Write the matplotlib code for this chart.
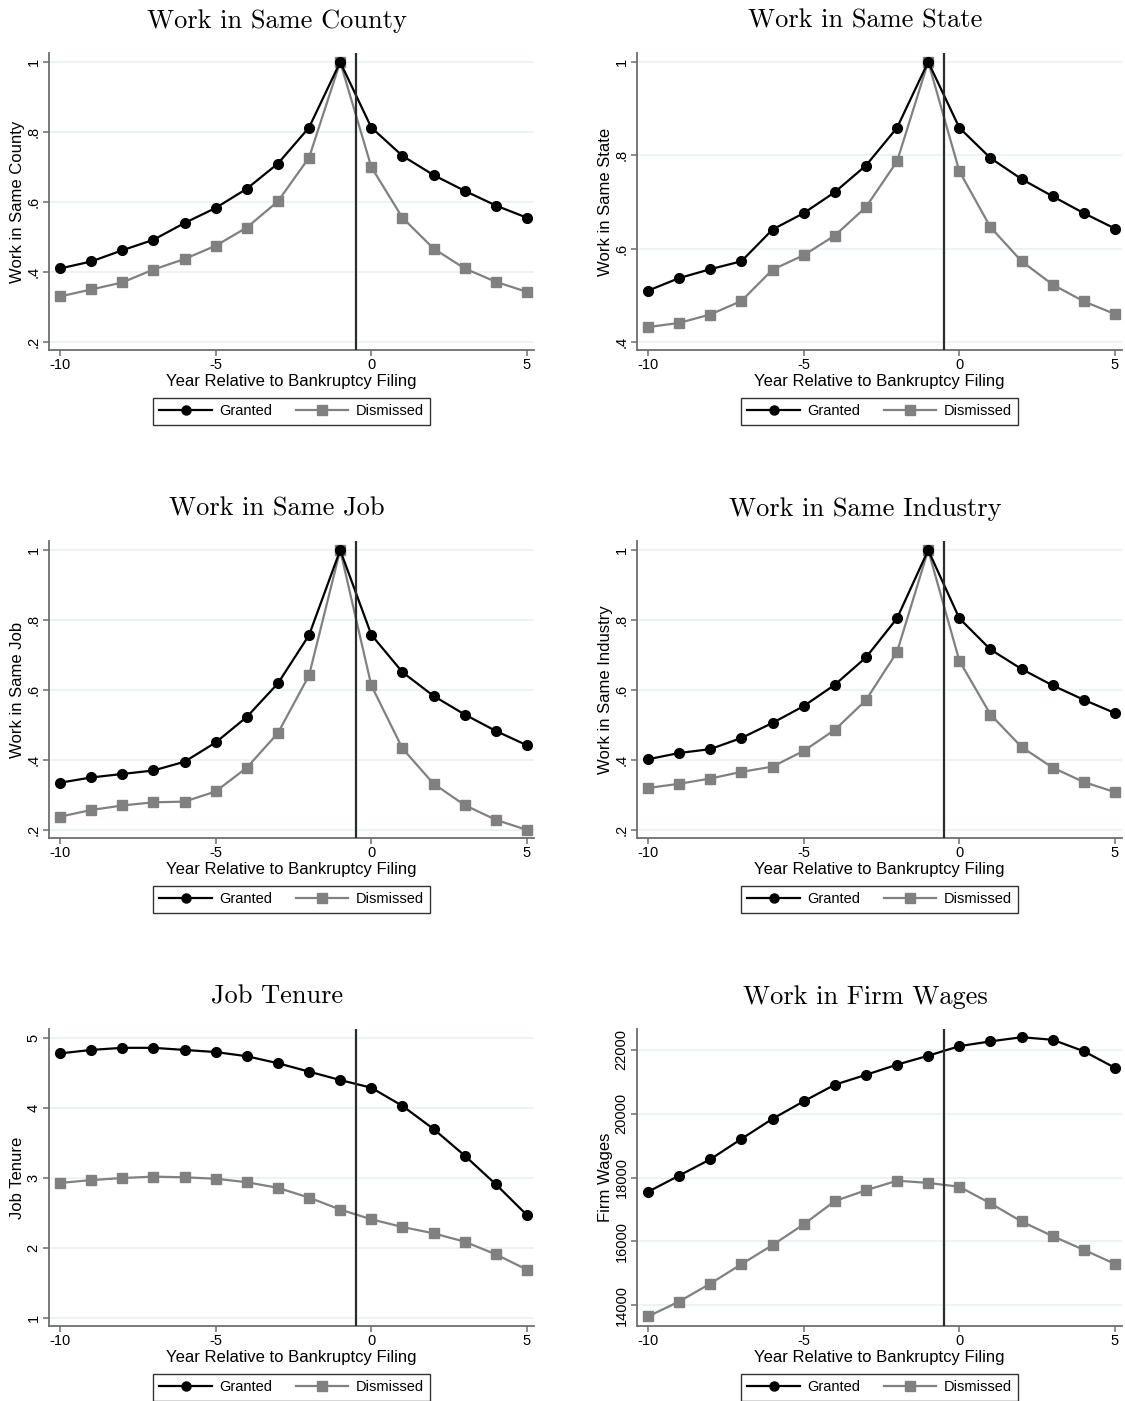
import matplotlib
matplotlib.use('Agg')
import matplotlib.pyplot as plt
from matplotlib.lines import Line2D

plt.rcParams['font.family'] = ['Liberation Sans', 'DejaVu Sans']
plt.rcParams['axes.unicode_minus'] = False

years = list(range(-10, 6))
x_ticks = [-10, -5, 0, 5]
x_tick_labels = ['-10', '-5', '0', '5']

county_granted = [.41, .43, .462, .492, .54, .583, .638, .71, .813, 1.0, .813, .732, .677, .632, .59, .555]
county_dismissed = [.33, .35, .37, .407, .437, .475, .527, .602, .727, 1.0, .70, .555, .467, .41, .372, .343]

state_granted = [.51, .537, .556, .573, .641, .676, .721, .778, .859, 1.0, .859, .794, .749, .712, .676, .643]
state_dismissed = [.432, .441, .459, .488, .555, .586, .628, .689, .787, 1.0, .766, .646, .573, .523, .487, .46]

job_granted = [.335, .35, .36, .37, .395, .45, .523, .619, .757, 1.0, .758, .651, .583, .53, .483, .442]
job_dismissed = [.238, .257, .27, .279, .281, .31, .378, .477, .642, 1.0, .613, .433, .332, .271, .229, .2]

industry_granted = [.402, .42, .431, .463, .506, .554, .615, .693, .805, 1.0, .805, .716, .66, .613, .572, .534]
industry_dismissed = [.32, .332, .347, .366, .381, .426, .486, .571, .709, 1.0, .684, .53, .437, .378, .337, .308]

tenure_granted = [4.78, 4.83, 4.86, 4.86, 4.83, 4.80, 4.74, 4.64, 4.52, 4.40, 4.29, 4.03, 3.70, 3.32, 2.91, 2.47]
tenure_dismissed = [2.93, 2.97, 3.00, 3.02, 3.01, 2.99, 2.94, 2.86, 2.72, 2.55, 2.41, 2.30, 2.21, 2.09, 1.91, 1.69]

wages_granted = [17550, 18060, 18570, 19210, 19840, 20390, 20910, 21220, 21540, 21820, 22120, 22270, 22400, 22320, 21960, 21440]
wages_dismissed = [13640, 14110, 14670, 15280, 15880, 16530, 17260, 17600, 17900, 17830, 17710, 17190, 16620, 16160, 15730, 15290]

frac_ticks = [.2, .4, .6, .8, 1]
frac_labels = ['.2', '.4', '.6', '.8', '1']
state_ticks = [.4, .6, .8, 1]
state_labels = ['.4', '.6', '.8', '1']
tenure_ticks = [1, 2, 3, 4, 5]
tenure_labels = ['1', '2', '3', '4', '5']
wage_ticks = [14000, 16000, 18000, 20000, 22000]
wage_labels = ['14000', '16000', '18000', '20000', '22000']

panels = [
    ('Work in Same County', 'Work in Same County', county_granted, county_dismissed, frac_ticks, frac_labels, (.177, 1.026)),
    ('Work in Same State', 'Work in Same State', state_granted, state_dismissed, state_ticks, state_labels, (.383, 1.019)),
    ('Work in Same Job', 'Work in Same Job', job_granted, job_dismissed, frac_ticks, frac_labels, (.177, 1.026)),
    ('Work in Same Industry', 'Work in Same Industry', industry_granted, industry_dismissed, frac_ticks, frac_labels, (.177, 1.026)),
    ('Job Tenure', 'Job Tenure', tenure_granted, tenure_dismissed, tenure_ticks, tenure_labels, (.886, 5.129)),
    ('Work in Firm Wages', 'Firm Wages', wages_granted, wages_dismissed, wage_ticks, wage_labels, (13342, 22658)),
]

W, H = 1125, 1401
fig = plt.figure(figsize=(W / 100, H / 100), dpi=100)
fig.patch.set_facecolor('white')

axis_grey = '#6e6e6e'
dismissed_grey = '#808080'

for i, (title, ylab, g, d, yt, ytl, ylim) in enumerate(panels):
    row, col = divmod(i, 2)
    left = 49 + 588 * col
    top = 53 + 488 * row
    ax = fig.add_axes([left / W, (H - top - 297) / H, 485 / W, 297 / H])

    ax.plot(years, d, color=dismissed_grey, lw=1.6, marker='s', ms=6.5,
            mfc=dismissed_grey, mec=dismissed_grey, zorder=3)
    ax.plot(years, g, color='black', lw=1.6, marker='o', ms=7,
            mfc='black', mec='black', zorder=4)
    ax.axvline(-0.5, color='#2b2b2b', lw=1.6, zorder=5)

    ax.set_xlim(-10.353, 5.225)
    ax.set_ylim(*ylim)
    ax.set_xticks(x_ticks, x_tick_labels)
    ax.set_yticks(yt, ytl)
    ax.grid(axis='y', color='#e8f0f2', lw=1.1, zorder=0)
    ax.set_axisbelow(True)

    for s in ['top', 'right']:
        ax.spines[s].set_visible(False)
    for s in ['left', 'bottom']:
        ax.spines[s].set_color(axis_grey)
        ax.spines[s].set_linewidth(1.3)
    ax.tick_params(axis='both', colors=axis_grey, labelcolor='black',
                   length=4, width=1.1, labelsize=10.5)
    ax.tick_params(axis='x', pad=1.5)
    ax.tick_params(axis='y', pad=2)
    for lbl in ax.get_yticklabels():
        lbl.set_rotation(90)
        lbl.set_va('center')

    ax.set_xlabel('Year Relative to Bankruptcy Filing', fontsize=12, labelpad=2)
    ax.set_ylabel(ylab, fontsize=12, labelpad=1)

    cx = 277 + 588 * col
    fig.text(cx / W, 1 - (28 + 488 * row) / H, title, family='cmr10',
             fontsize=19, ha='center', va='baseline')

    handles = [
        Line2D([], [], color='black', lw=1.6, marker='o', ms=6.5),
        Line2D([], [], color=dismissed_grey, lw=1.6, marker='s', ms=6.5),
    ]
    leg = ax.legend(handles, ['Granted', 'Dismissed'], loc='center',
                    bbox_to_anchor=(0.5, -0.207), ncol=2, fontsize=10.5,
                    frameon=True, fancybox=False, edgecolor='black',
                    handlelength=3.6, handletextpad=0.5, columnspacing=1.6,
                    borderpad=0.45, borderaxespad=0)
    leg.get_frame().set_linewidth(1.0)

fig.savefig('out.png', dpi=100, facecolor='white')
